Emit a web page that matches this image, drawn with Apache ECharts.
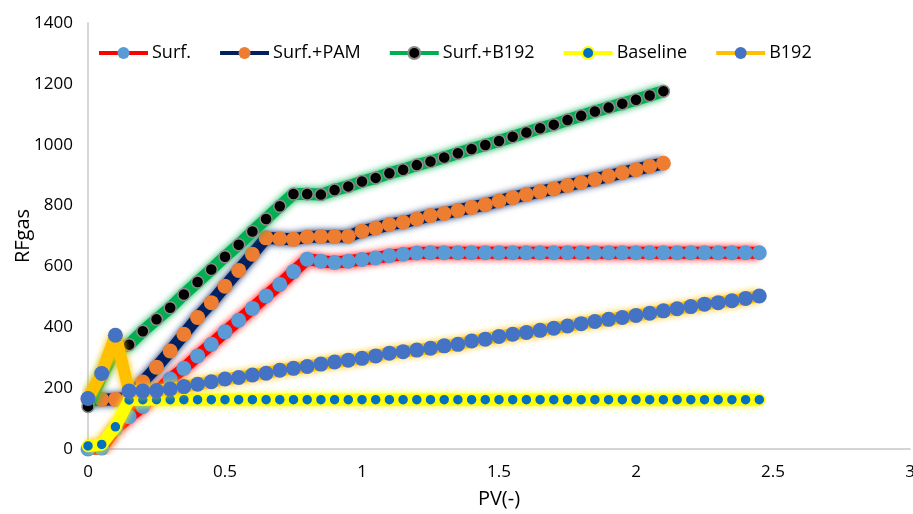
<!DOCTYPE html>
<html>
<head>
<meta charset="utf-8">
<script src="https://cdn.jsdelivr.net/npm/echarts@6/dist/echarts.min.js"></script>
<style>
html,body{margin:0;padding:0;background:#fff;}
#chart{width:913px;height:514px;}
</style>
</head>
<body>
<div id="chart"></div>
<script>
// PV(-) values
var pvLong = [0,0.05,0.1,0.15,0.2,0.25,0.3,0.35,0.4,0.45,0.5,0.55,0.6,0.65,0.7,0.75,0.8,0.85,0.9,0.95,
  1,1.05,1.1,1.15,1.2,1.25,1.3,1.35,1.4,1.45,1.5,1.55,1.6,1.65,1.7,1.75,1.8,1.85,1.9,1.95,
  2,2.05,2.1,2.15,2.2,2.25,2.3,2.35,2.4,2.45];
var pvShort = [0,0.05,0.1,0.15,0.2,0.25,0.3,0.35,0.4,0.45,0.5,0.55,0.6,0.65,0.7,0.75,0.8,0.85,0.9,0.95,
  1,1.05,1.1,1.15,1.2,1.25,1.3,1.35,1.4,1.45,1.5,1.55,1.6,1.65,1.7,1.75,1.8,1.85,1.9,1.95,
  2,2.05,2.1];

var surf = [0,3,66,106,140,186,230,265,306,344,385,423,462,503,541,583,624,617,613,617,
  623,628,635,640,644,645,645,645,645,645,645,645,645,645,645,645,645,645,645,645,
  645,645,645,645,645,645,645,645,645,645];
var surfPam = [163,163,163,170,220,269,322,377,432,481,535,587,640,694,691,689,697,698,698,699,
  716,726,738,745,756,767,774,784,794,803,815,826,836,846,855,866,876,886,897,908,
  918,929,939];
var surfB192 = [140,240,325,343,387,426,464,508,549,590,632,671,715,756,798,838,838,836,851,863,
  879,891,906,918,933,945,958,972,986,999,1012,1026,1040,1054,1066,1081,1095,1109,1122,1135,
  1148,1162,1176];
var baseline = [10,15,73,161,162,162,162,162,162,162,162,162,162,162,162,162,162,162,162,162,
  162,162,162,162,162,162,162,162,162,162,162,162,162,162,162,162,162,162,162,162,
  162,162,162,162,162,162,162,162,162,162];
var b192 = [166,248,374,191,191,192,197,205,213,221,230,235,243,249,259,265,271,279,286,292,
  298,306,315,320,325,331,339,344,355,361,370,377,383,390,397,404,412,419,426,432,
  439,446,454,461,468,476,481,487,495,503];

var seriesNames = ['Surf.','Surf.+PAM','Surf.+B192','Baseline','B192'];
var xTicks = [0,0.5,1,1.5,2,2.5,3];
var yTicks = [0,200,400,600,800,1000,1200,1400];

function pairs(xs, ys){ return ys.map(function(v,i){ return [xs[i], v]; }); }

function mk(idx, xs, ys, lineColor, markColor, size, borderColor, borderWidth){
  return {
    name: seriesNames[idx],
    type: 'line',
    z: 2 + idx,
    data: pairs(xs, ys),
    symbol: 'circle',
    symbolSize: size,
    showSymbol: true,
    lineStyle: {color: lineColor, width: 12, shadowBlur: 7, shadowColor: lineColor},
    itemStyle: {color: markColor, borderColor: borderColor || markColor, borderWidth: borderWidth || 0},
    emphasis: {disabled: true},
    animation: false
  };
}

var chart = echarts.init(document.getElementById('chart'), null, {renderer: 'canvas'});
var font = '"Open Sans", "Liberation Sans", sans-serif';
chart.setOption({
  animation: false,
  backgroundColor: '#ffffff',
  textStyle: {fontFamily: font},
  grid: {left: 88, right: 3, top: 23, bottom: 65, containLabel: false, outerBoundsMode: 'none'},
  legend: {
    data: seriesNames,
    left: 92, top: 39,
    itemWidth: 49, itemHeight: 15, itemGap: 27,
    textStyle: {fontSize: 18, color: '#000', fontFamily: font, padding: [0,0,0,-1]},
    lineStyle: {width: 4, shadowBlur: 0}
  },
  xAxis: {
    type: 'value', min: xTicks[0], max: xTicks[xTicks.length-1], interval: 0.5,
    name: 'PV(-)', nameLocation: 'middle', nameGap: 40, nameMoveOverlap: false,
    nameTextStyle: {fontSize: 20, color: '#000', fontFamily: font},
    axisLine: {show: true, lineStyle: {color: '#c8c8c8', width: 1.5}},
    axisTick: {show: false},
    splitLine: {show: false},
    axisLabel: {fontSize: 17, color: '#000', margin: 15, fontFamily: font,
      formatter: function(v){ return String(v); }}
  },
  yAxis: {
    type: 'value', min: yTicks[0], max: yTicks[yTicks.length-1], interval: 200,
    name: 'RFgas', nameLocation: 'middle', nameGap: 55, nameRotate: 90, nameMoveOverlap: false,
    nameTextStyle: {fontSize: 20, color: '#000', fontFamily: font},
    axisLine: {show: true, lineStyle: {color: '#c8c8c8', width: 1.5}},
    axisTick: {show: false},
    splitLine: {show: false},
    axisLabel: {fontSize: 17, color: '#000', margin: 15, fontFamily: font,
      formatter: function(v){ return String(v); }}
  },
  series: [
    mk(0, pvLong, surf, '#ff0000', '#5b9bd5', 15),
    mk(1, pvShort, surfPam, '#002060', '#ed7d31', 15),
    mk(2, pvShort, surfB192, '#00b050', '#000000', 12, '#8c8c8c', 1.5),
    mk(3, pvLong, baseline, '#ffff00', '#0070c0', 11, '#ffff00', 1.5),
    mk(4, pvLong, b192, '#ffc000', '#4472c4', 15)
  ]
});
</script>
</body>
</html>
